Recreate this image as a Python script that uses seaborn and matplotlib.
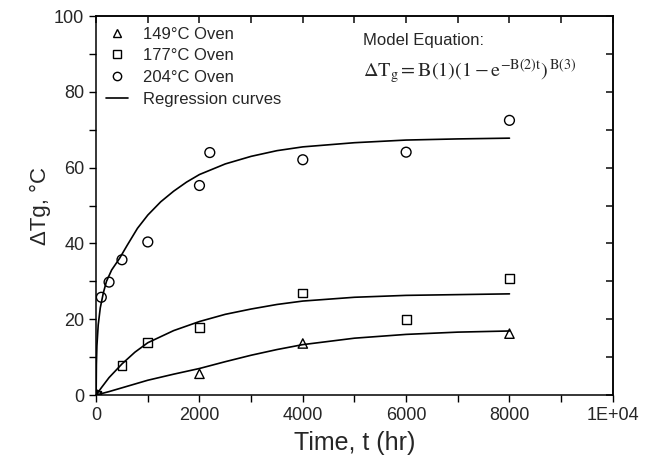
import numpy as np
import pandas as pd
import seaborn as sns
import matplotlib.pyplot as plt
from matplotlib.lines import Line2D
from matplotlib.ticker import MultipleLocator

sns.set_theme(style="ticks")
plt.rcParams['font.family'] = ['Liberation Sans', 'DejaVu Sans']
plt.rcParams['mathtext.fontset'] = 'stix'

# measured points
t_149 = [0, 2000, 4000, 8000]
dtg_149 = [0, 5.6, 13.6, 16.2]
t_177 = [0, 500, 1000, 2000, 4000, 6000, 8000]
dtg_177 = [0, 7.8, 13.9, 17.9, 26.9, 19.9, 30.7]
t_204 = [0, 100, 250, 500, 1000, 2000, 2200, 4000, 6000, 8000]
dtg_204 = [0, 25.8, 29.8, 35.7, 40.4, 55.3, 64.0, 62.1, 64.1, 72.5]

# regression curves
curve_t_149 = [0, 250, 500, 1000, 1500, 2000, 2500, 3000, 3500, 4000, 5000, 6000, 7000, 8000]
curve_149 = [0, 0.9, 1.9, 3.9, 5.5, 7.0, 8.8, 10.5, 12.0, 13.3, 15.0, 16.0, 16.6, 16.9]
curve_t_177 = [0, 100, 250, 500, 750, 1000, 1500, 2000, 2500, 3000, 3500, 4000, 5000, 6000, 7000, 8000]
curve_177 = [0, 1.9, 4.6, 8.2, 11.3, 13.8, 17.0, 19.4, 21.3, 22.7, 23.9, 24.8, 25.8, 26.3, 26.5, 26.7]
curve_t_204 = [0, 5, 15, 40, 80, 140, 200, 300, 450, 600, 800, 1000, 1250, 1500, 1750, 2000,
               2500, 3000, 3500, 4000, 5000, 6000, 7000, 8000]
curve_204 = [0, 8, 13, 18.5, 23, 27, 30, 33, 36, 39.5, 44, 47.5, 51, 53.8, 56.2, 58.2,
             61, 63, 64.5, 65.5, 66.6, 67.3, 67.6, 67.8]

fig = plt.figure(figsize=(6.54, 4.62), dpi=100)
ax = fig.add_axes([0.147, 0.145, 0.79, 0.82])

for ct, cv in [(curve_t_149, curve_149), (curve_t_177, curve_177), (curve_t_204, curve_204)]:
    sns.lineplot(x=ct, y=cv, ax=ax, color='black', lw=1.2, sort=False)

mk = dict(facecolor='none', edgecolor='black', linewidth=1.0, zorder=3)
sns.scatterplot(x=t_149, y=dtg_149, marker='^', s=45, ax=ax, **mk)
sns.scatterplot(x=t_177, y=dtg_177, marker='s', s=40, ax=ax, **mk)
sns.scatterplot(x=t_204, y=dtg_204, marker='o', s=50, ax=ax, **mk)

ax.set_xlim(0, 10000)
ax.set_ylim(0, 100)
ax.set_xticks([0, 2000, 4000, 6000, 8000, 10000])
ax.set_xticklabels(['0', '2000', '4000', '6000', '8000', '1E+04'])
ax.xaxis.set_minor_locator(MultipleLocator(1000))
ax.yaxis.set_major_locator(MultipleLocator(20))
ax.yaxis.set_minor_locator(MultipleLocator(10))
ax.tick_params(which='both', direction='out', length=5, width=1, labelsize=13, color='black')
for s in ax.spines.values():
    s.set_color('black')
    s.set_linewidth(1.1)

top = ax.secondary_xaxis('top')
top.set_xticks(np.arange(0, 10001, 1000))
top.tick_params(direction='in', length=5, labeltop=False)
right = ax.secondary_yaxis('right')
right.set_yticks(np.arange(0, 101, 10))
right.tick_params(direction='in', length=5, labelright=False)

ax.set_xlabel('Time, t (hr)', fontsize=18, labelpad=5)
ax.set_ylabel('ΔTg, °C', fontsize=16, labelpad=2)

handles = [
    Line2D([], [], marker='^', ls='none', mfc='none', mec='black', ms=6),
    Line2D([], [], marker='s', ls='none', mfc='none', mec='black', ms=6),
    Line2D([], [], marker='o', ls='none', mfc='none', mec='black', ms=6),
    Line2D([], [], color='black', lw=1.2),
]
labels = ['149°C Oven', '177°C Oven', '204°C Oven', 'Regression curves']
ax.legend(handles, labels, loc='upper left', bbox_to_anchor=(-0.01, 1.012), frameon=False,
          fontsize=12, handlelength=1.3, handletextpad=0.9, labelspacing=0.4, borderaxespad=0.5)

ax.text(0.517, 0.935, 'Model Equation:', transform=ax.transAxes, fontsize=12, va='center')
ax.text(0.517, 0.855,
        r'$\Delta\mathrm{T}_\mathrm{g} = \mathrm{B}(1)(1 - \mathrm{e}^{-\mathrm{B}(2)\mathrm{t}})^{\,\mathrm{B}(3)}$',
        transform=ax.transAxes, fontsize=14.5, va='center')

fig.savefig('out.png', dpi=100)
